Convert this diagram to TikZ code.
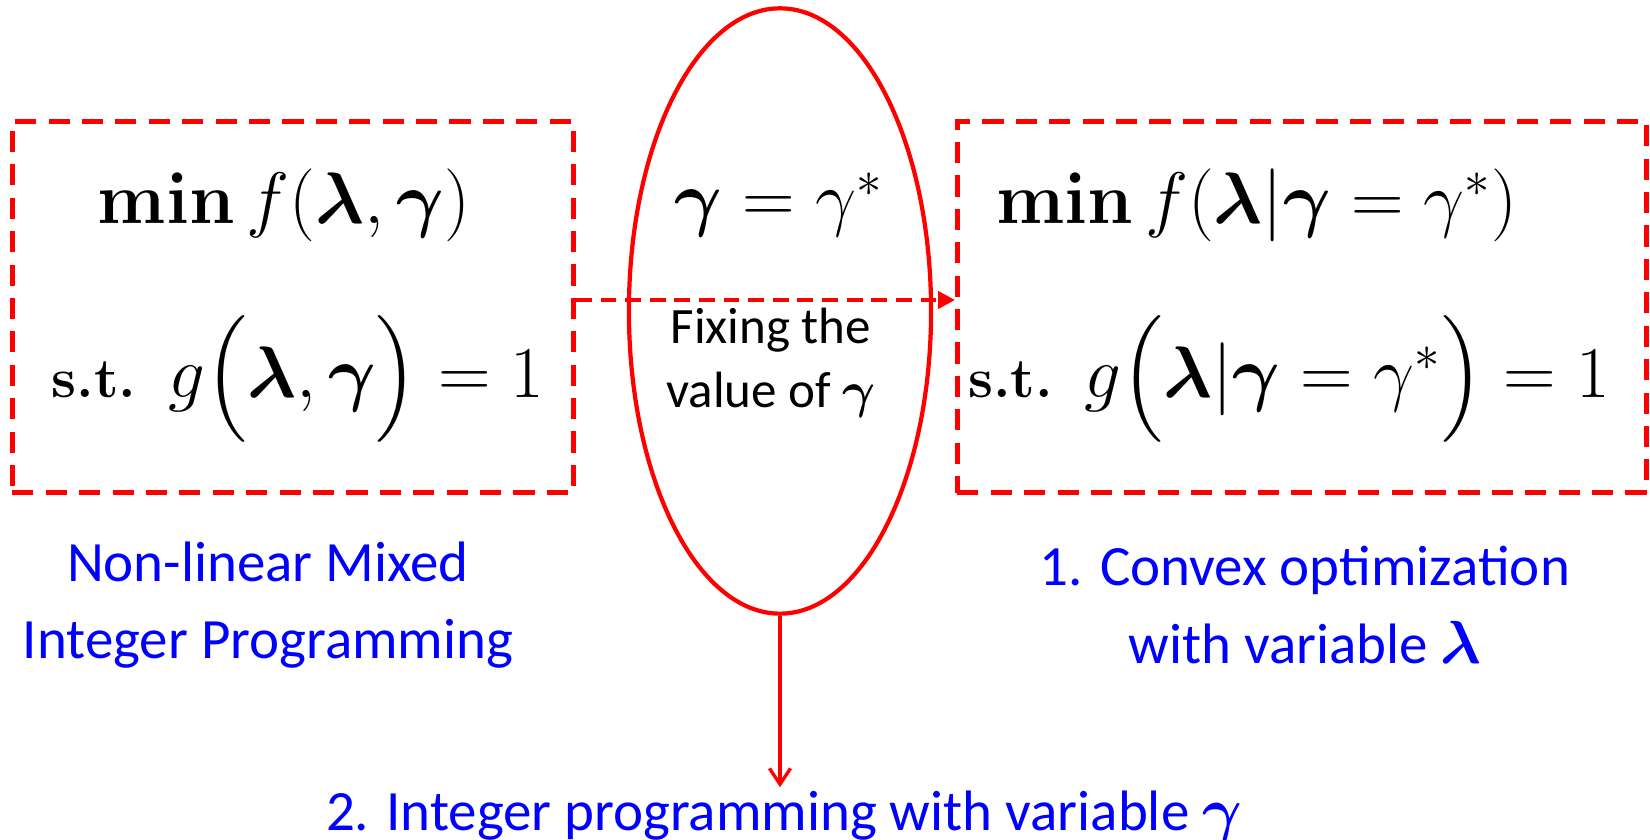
\documentclass[tikz,border=0pt]{standalone}
\usepackage[no-math]{fontspec}
\setmainfont{Carlito}
\newfontfamily\lmfont{Latin Modern Roman}
\usepackage{amsmath, amssymb}
\usetikzlibrary{shapes.geometric, arrows.meta, positioning}

\newcommand{\stlabel}{{\fontsize{16}{18}\selectfont\lmfont\bfseries s.t.}}

\begin{document}
\begin{tikzpicture}[
                    x=0.01cm, y=-0.01cm,
                    probbox/.style={rectangle, draw=red, line width=1.3pt, dash pattern=on 6pt off 3.5pt, inner sep=0pt, minimum height=3.71cm},
                    fixoval/.style={ellipse, draw=red, line width=1.2pt, minimum width=3.02cm, minimum height=6.05cm, inner sep=0pt},
                    formula/.style={inner sep=0pt, font=\fontsize{20}{24}\selectfont},
                    note/.style={text=blue, align=center, font=\fontsize{16.2}{22}\selectfont},
                    line/.style={draw=red, line width=1.2pt, dash pattern=on 4.5pt off 2.5pt, -{Triangle[length=4.8pt,width=4.8pt]}},
                    drop/.style={draw=red, line width=0.95pt, -{Straight Barb[length=4.5pt,width=6pt]}}
                ]
                    \useasboundingbox (0,0) rectangle (1650,840);

                    \node [probbox, minimum width=5.61cm] (mixed) at (293,307) {};
                    \node [probbox, minimum width=6.89cm] (convex) at (1302,307) {};
                    \node [fixoval] (fix) at (780,311) {};

                    % Problems
                    \node [formula] (objmixed) at (284,205) {$\mathbf{min}\,f(\boldsymbol{\lambda},\boldsymbol{\gamma})$};
                    \node [formula] (stmixed) at (298,379) {\stlabel\ \ $g\Big(\boldsymbol{\lambda},\boldsymbol{\gamma}\Big)=1$};
                    \node [formula] (objconvex) at (1257,205) {$\mathbf{min}\,f(\boldsymbol{\lambda}|\boldsymbol{\gamma}=\gamma^{*})$};
                    \node [formula] (stconvex) at (1289,379) {\stlabel\ \ $g\Big(\boldsymbol{\lambda}|\boldsymbol{\gamma}=\gamma^{*}\Big)=1$};

                    \node [formula] (fixeq) at (779,205) {$\boldsymbol{\gamma}=\gamma^{*}$};
                    \node [align=center, inner sep=0pt, font=\fontsize{14.5}{18.2}\selectfont] (fixtext) at (771,363) {Fixing the\\value of $\boldsymbol{\gamma}$};

                    % Labels
                    \node [note] (mixedlabel) at (268,605) {Non-linear Mixed\\Integer Programming};
                    \node [note] (convexlabel) at (1305,605) {1. Convex optimization\\with variable $\boldsymbol{\lambda}$};
                    \node [note, anchor=base, inner sep=1pt] (intlabel) at (784,831) {2. Integer programming with variable $\boldsymbol{\gamma}$};

                    % Edges
                    \path [line] ([yshift=0.07cm]mixed.east) -- ([yshift=0.07cm]convex.west);
                    \path [drop] (fix.south) -- (fix.south |- intlabel.north);
                \end{tikzpicture}
\end{document}
